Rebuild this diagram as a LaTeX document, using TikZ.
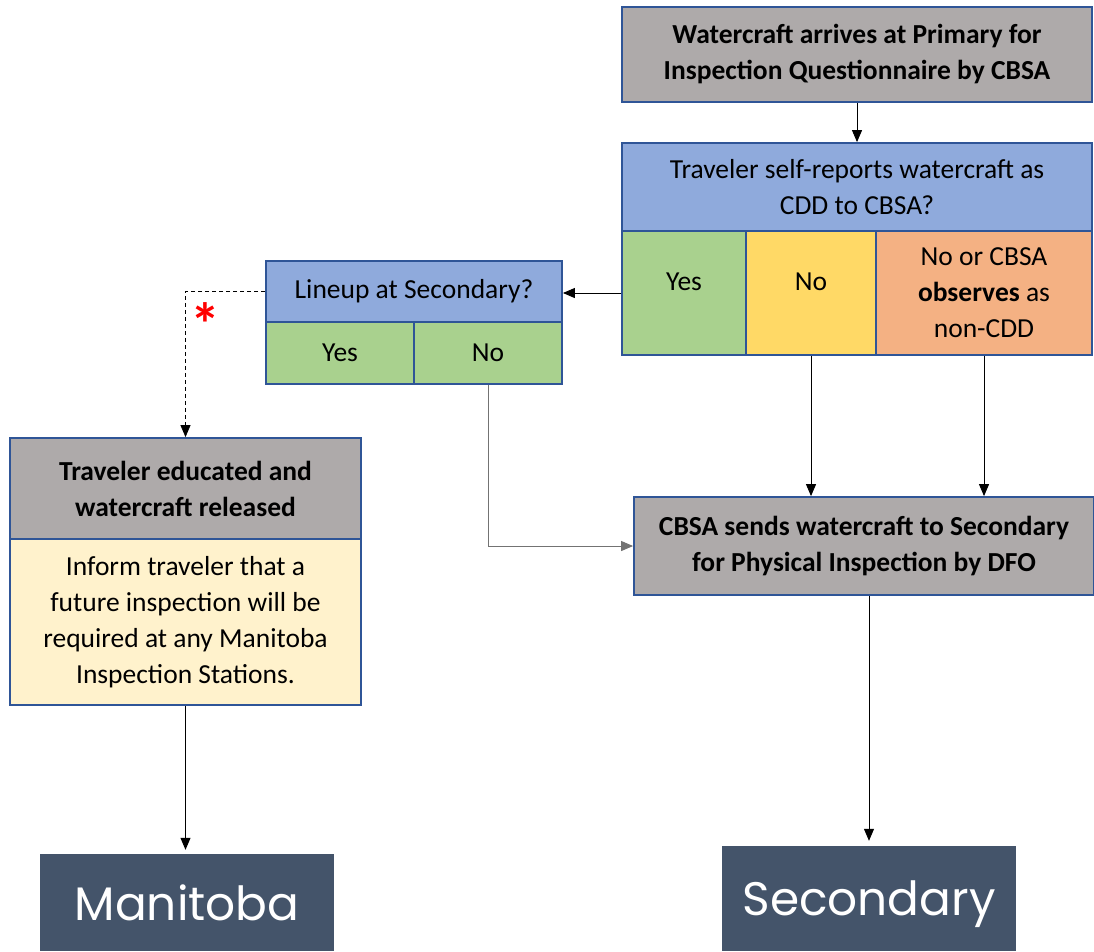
\documentclass[tikz,border=0pt]{standalone}
\usepackage{fontspec}
\setmainfont{Carlito}
\newfontfamily\placefont{Poppins}
\usetikzlibrary{arrows.meta,positioning}
\definecolor{boxline}{HTML}{2F5597}
\definecolor{boxgray}{HTML}{AEAAAA}
\definecolor{qblue}{HTML}{8FAADC}
\definecolor{ansgreen}{HTML}{A9D18E}
\definecolor{ansyellow}{HTML}{FFD966}
\definecolor{ansorange}{HTML}{F4B183}
\definecolor{notecream}{HTML}{FFF2CC}
\definecolor{placeslate}{HTML}{44546A}

\begin{document}
\begin{tikzpicture}[x=1pt,y=-1pt,
    cell/.style={draw=boxline, line width=1.8pt, inner sep=0pt, align=center,
      font=\fontsize{27.5}{36}\selectfont},
    step box/.style={cell, fill=boxgray, font=\fontsize{27.5}{36}\selectfont\bfseries},
    question/.style={cell, fill=qblue},
    place/.style={fill=placeslate, text=white, inner sep=0pt, text depth=0pt,
      minimum width=294pt, font=\placefont\fontsize{47}{52}\selectfont},
    arr/.style={-{Triangle[width=10pt,length=12pt]}, line width=1pt},
    up10/.style={text height=18pt, text depth=24pt}]
  \useasboundingbox (0,0) rectangle (1094,951);

  \node[step box, minimum width=470pt, minimum height=95pt] (prim) at (857,54.5)
    {Watercraft arrives at Primary for\\Inspection Questionnaire by CBSA};
  \node[question, minimum width=470pt, minimum height=88pt] (self) at (857,187)
    {Traveler self-reports watercraft as\\CDD to CBSA?};
  \node[cell, up10, fill=ansgreen, minimum width=124pt, minimum height=124pt] (yesA) at (684,293) {Yes};
  \node[cell, up10, fill=ansyellow, minimum width=130pt, minimum height=124pt] (noA) at (811,293) {No};
  \node[cell, fill=ansorange, minimum width=216pt, minimum height=124pt] (obs) at (984,293)
    {No or CBSA\\\textbf{observes} as\\non-CDD};

  \node[question, minimum width=296pt, minimum height=61pt] (lineup) at (414,291.5) {Lineup at Secondary?};
  \node[cell, fill=ansgreen, minimum width=148pt, minimum height=62pt] (yesB) at (340,353) {Yes};
  \node[cell, fill=ansgreen, minimum width=148pt, minimum height=62pt] (noB) at (488,353) {No};

  \node[step box, minimum width=351pt, minimum height=101pt] (edu) at (185.5,488.5)
    {Traveler educated and\\watercraft released};
  \node[cell, fill=notecream, minimum width=351pt, minimum height=166pt] (inform) at (185.5,622)
    {Inform traveler that a\\future inspection will be\\required at any Manitoba\\Inspection Stations.};

  \node[step box, minimum width=460pt, minimum height=98pt] (cbsa) at (864,546)
    {CBSA sends watercraft to Secondary\\for Physical Inspection by DFO};

  \node[place, minimum height=97pt] (manitoba) at (187,902.5) {Manitoba};
  \node[place, minimum height=105pt] (second) at (869,898.5) {Secondary};

  \node[text=red, font=\fontsize{60}{60}\selectfont\bfseries] (star) at (205,324) {*};

  \draw[arr] (prim) -- (self);
  \draw[arr] (yesA.west) -- (yesA.west -| lineup.east);
  \draw[arr, dash pattern=on 4pt off 3pt, line width=0.8pt] (lineup.west) -- (lineup.west -| edu.north) -- (edu.north);
  \draw[arr, black!55] (noB.south) |- (cbsa.west);
  \draw[arr] (noA.south) -- (noA.south |- cbsa.north);
  \draw[arr] (obs.south) -- (obs.south |- cbsa.north);
  \draw[arr, shorten >=4pt] (inform.south) -- (inform.south |- manitoba.north);
  \draw[arr, shorten >=5pt] (cbsa.south -| second.north) -- (second.north);
\end{tikzpicture}
\end{document}
